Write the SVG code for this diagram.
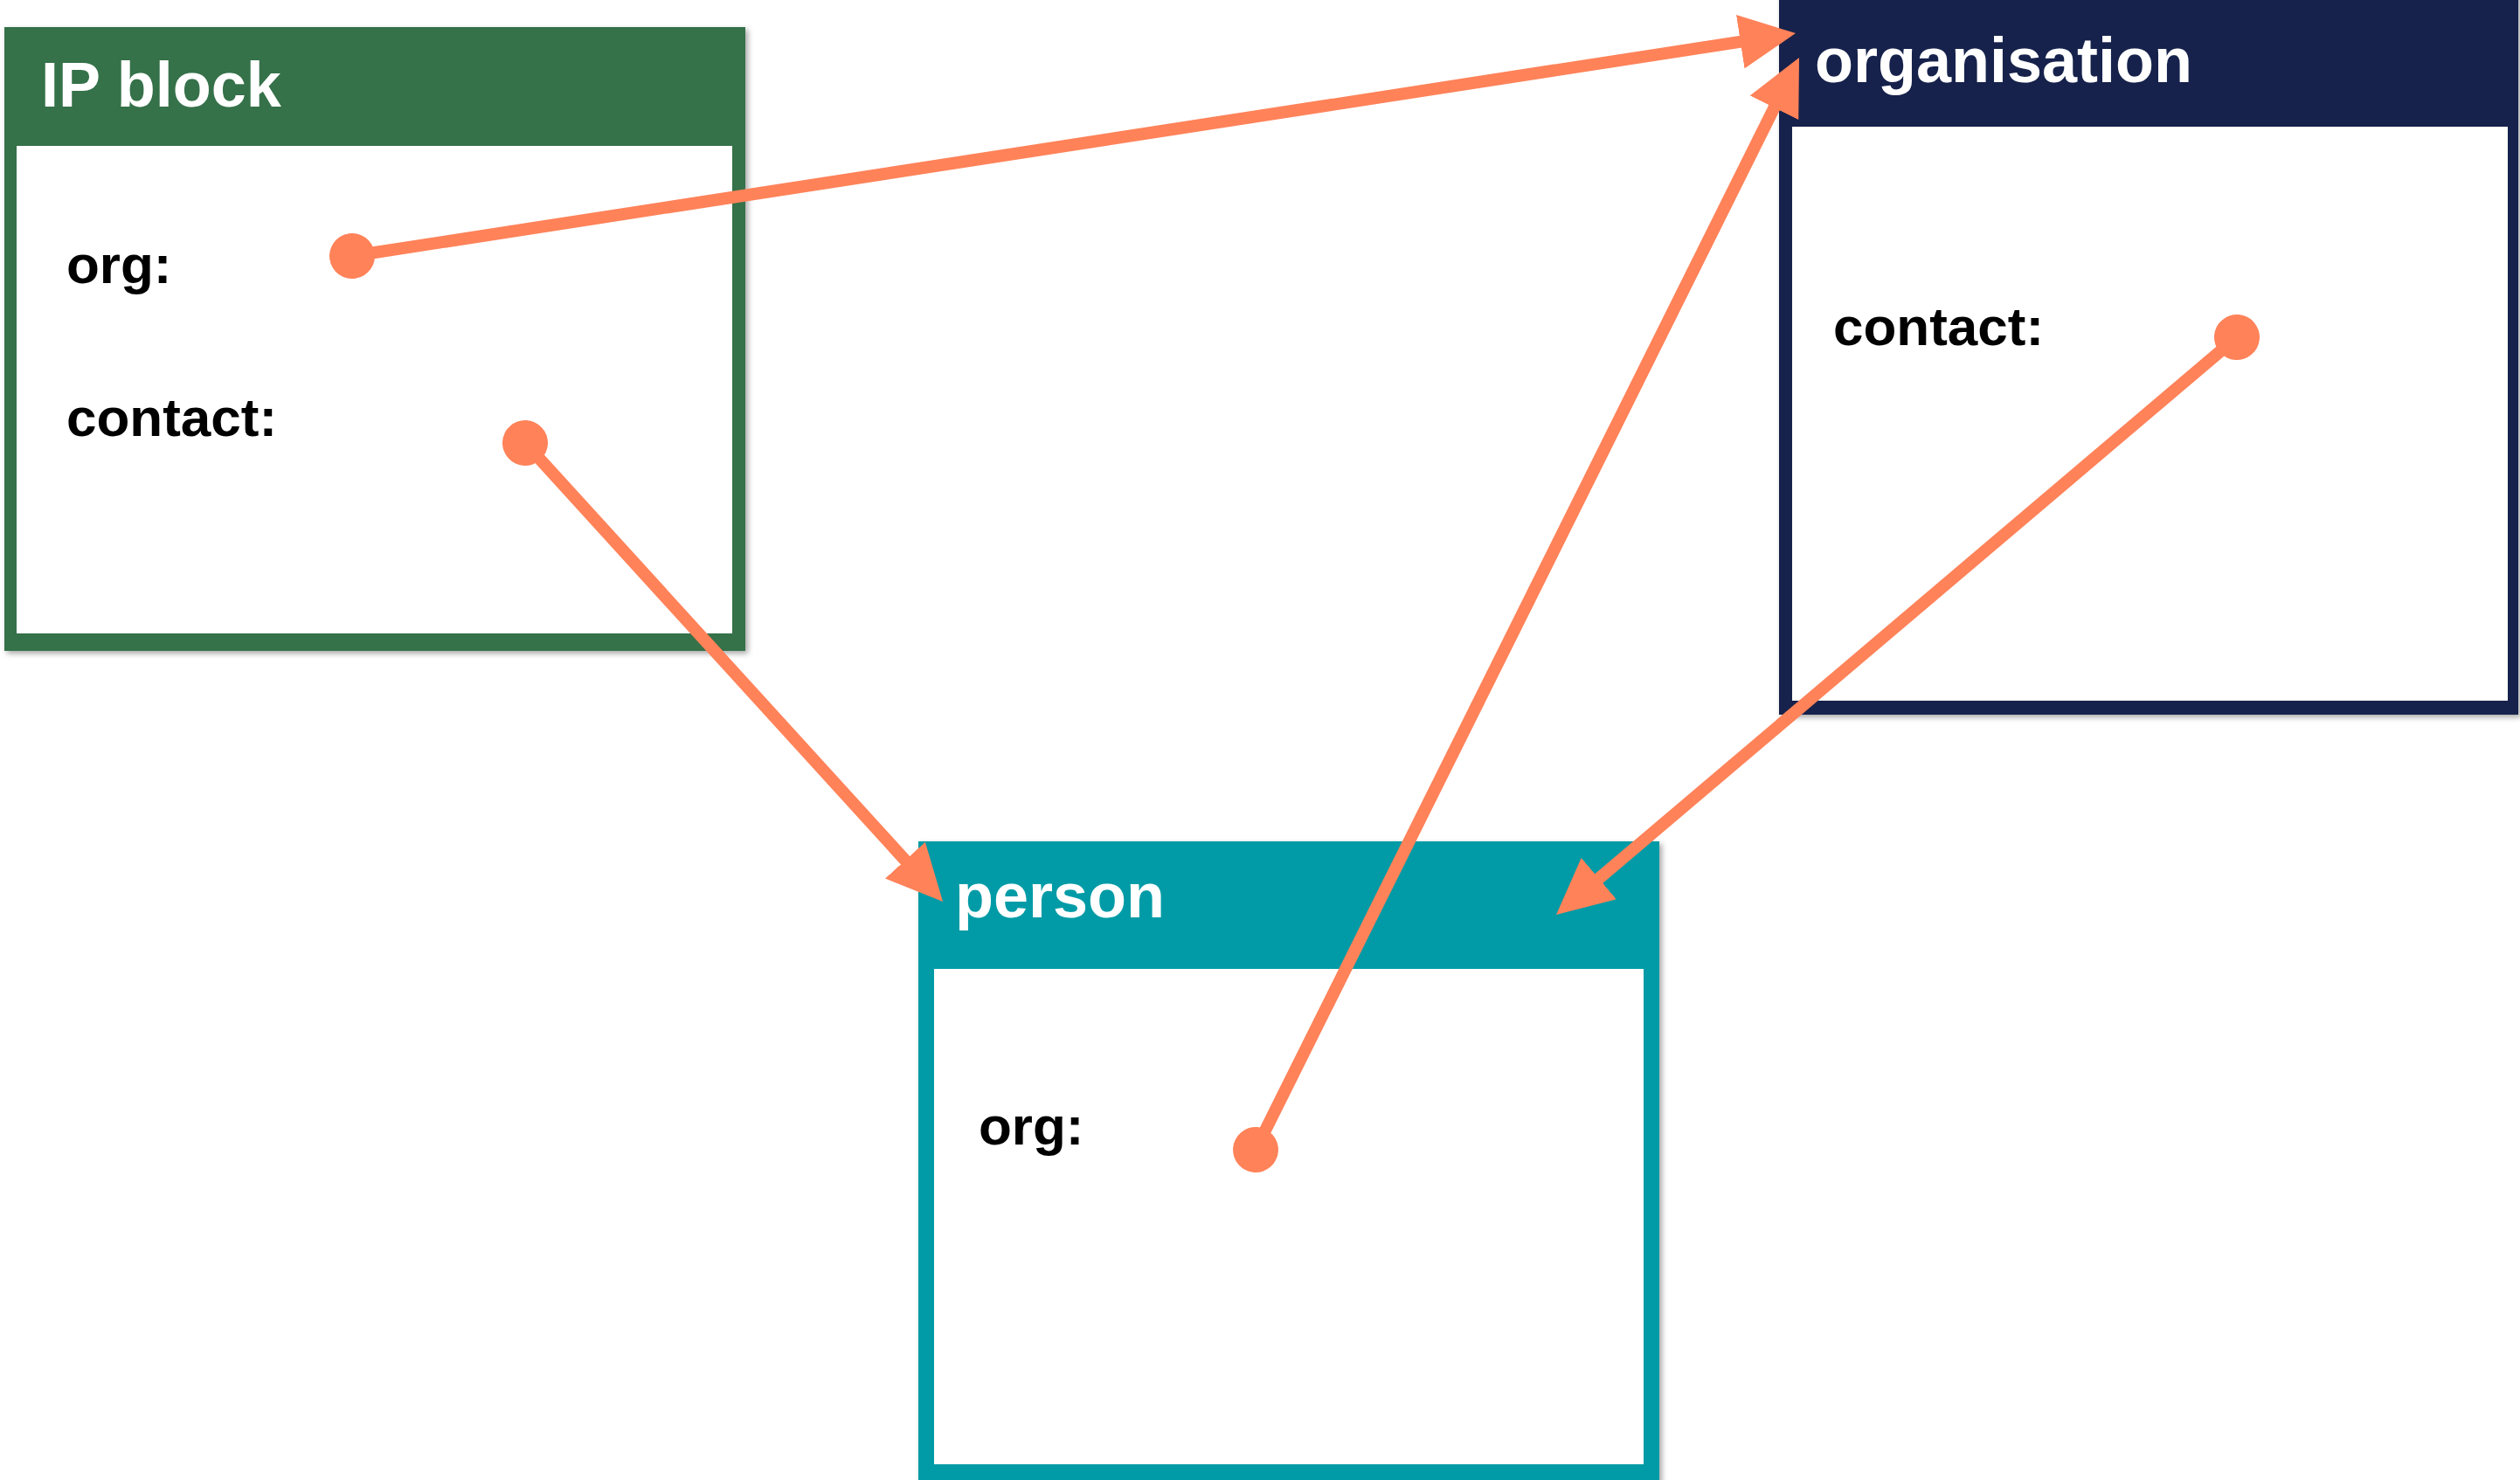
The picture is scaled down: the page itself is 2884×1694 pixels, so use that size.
<svg xmlns="http://www.w3.org/2000/svg" width="2884" height="1694" viewBox="0 0 2884 1694">
  <style>
    .title { font-family: "Liberation Sans", Arial, sans-serif; font-weight: bold; font-size: 72px; fill: #ffffff; }
    .field { font-family: "Liberation Sans", Arial, sans-serif; font-weight: bold; font-size: 62px; fill: #000000; }
    .inner { fill: #ffffff; }
    .conn { stroke: #ff8259; stroke-width: 14; fill: none; marker-start: url(#dot); marker-end: url(#arrow); }
  </style>
  <defs>
    <filter id="shadow" x="-5%" y="-5%" width="110%" height="110%">
      <feDropShadow dx="3" dy="3" stdDeviation="3" flood-color="#000000" flood-opacity="0.35"/>
    </filter>
    <marker id="arrow" markerUnits="userSpaceOnUse" viewBox="0 0 64 62" markerWidth="64" markerHeight="62" refX="24" refY="31" orient="auto">
      <path d="M0,0 L64,31 L0,62 z" fill="#ff8259"/>
    </marker>
    <marker id="dot" markerUnits="userSpaceOnUse" viewBox="0 0 52 52" markerWidth="52" markerHeight="52" refX="26" refY="26" orient="auto">
      <circle cx="26" cy="26" r="26" fill="#ff8259"/>
    </marker>
  </defs>

  <rect width="2884" height="1694" fill="#ffffff"/>

  <g id="ip-block">
    <rect x="5" y="31" width="848" height="714" fill="#347148" filter="url(#shadow)"/>
    <rect class="inner" x="19" y="167" width="819" height="558"/>
    <text class="title" x="47" y="122">IP block</text>
    <text class="field" x="76" y="324">org:</text>
    <text class="field" x="76" y="499">contact:</text>
  </g>

  <g id="organisation">
    <rect x="2036" y="-10" width="846" height="828" fill="#15214b" filter="url(#shadow)"/>
    <rect class="inner" x="2051" y="145" width="819" height="657"/>
    <text class="title" x="2077" y="94">organisation</text>
    <text class="field" x="2098" y="395">contact:</text>
  </g>

  <g id="person">
    <rect x="1051" y="963" width="848" height="760" fill="#009ba6" filter="url(#shadow)"/>
    <rect class="inner" x="1069" y="1109" width="812" height="567"/>
    <text class="title" x="1093" y="1050">person</text>
    <text class="field" x="1120" y="1310">org:</text>
  </g>

  <g id="connectors">
    <path class="conn" d="M403,293 L2015.5,44.1"/>
    <path class="conn" d="M601,507 L1052.1,1002.4"/>
    <path class="conn" d="M1437,1316 L2041.2,101.8"/>
    <path class="conn" d="M2560,386 L1811.5,1021.1"/>
  </g>
</svg>
